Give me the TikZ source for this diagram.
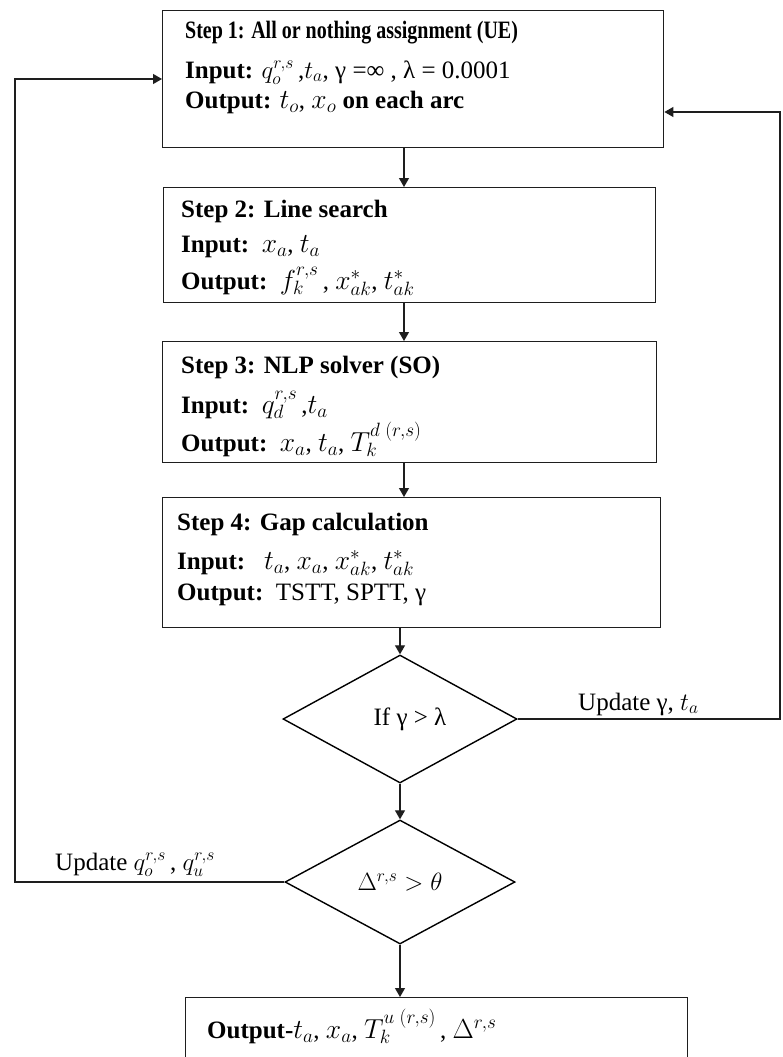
\RequirePackage{fix-cm}
\documentclass[tikz,border=0pt]{standalone}
\usepackage{fontspec}
\setmainfont{Liberation Serif}
\usepackage{graphicx}
\usetikzlibrary{shapes.geometric,arrows.meta,positioning}
\definecolor{edgegrey}{RGB}{30,30,30}
\newcommand{\bigtxt}{\fontsize{25}{30}\selectfont}
\newcommand{\mth}[1]{{\fontsize{27.5}{30}\selectfont$#1$}}

\begin{document}
\begin{tikzpicture}[
    x=1pt, y=-1pt,
    stepbox/.style={rectangle, draw=edgegrey, line width=1.4pt, anchor=north west,
        inner sep=0pt},
    decide/.style={diamond, draw=black, line width=1.4pt, inner sep=0pt,
        font=\bigtxt},
    ln/.style={anchor=base west, inner sep=0pt, font=\bigtxt},
    arr/.style={-{Triangle[length=9pt,width=10pt]}, line width=1.2pt, draw=edgegrey},
]
\useasboundingbox (0,0) rectangle (782,1057);
\clip (0,0) rectangle (782,1057);

% boxes
\node[stepbox, minimum width=501, minimum height=137] (s1) at (162,10) {};
\node[stepbox, minimum width=492, minimum height=115] (s2) at (163,187) {};
\node[stepbox, minimum width=494, minimum height=121] (s3) at (162,341) {};
\node[stepbox, minimum width=498, minimum height=130] (s4) at (162,497) {};
\node[decide, minimum width=234, minimum height=128] (d1) at (400,719)
    {\hspace*{20pt}If γ > λ};
\node[decide, minimum width=230, minimum height=124] (d2) at (400,882)
    {$\Delta^{r,s} > \theta$};
\node[stepbox, minimum width=502, minimum height=100] (out) at (185,997) {};

% box texts
\node[ln] (s1a) at (185,39) {\scalebox{0.8}[1]{\textbf{Step 1: All or nothing assignment (UE)}}};
\node[ln] (s1b) at (185,78) {\textbf{Input:} $q_o^{r,s}$\,,$t_a$, γ =∞ , λ = 0.0001};
\node[ln] (s1c) at (185,108) {\textbf{Output:} \mth{t_o}, \mth{x_o} \textbf{on each arc}};

\node[ln] (s2a) at (181,217) {\textbf{Step 2: Line search}};
\node[ln] (s2b) at (181,252) {\textbf{Input:}~~\mth{x_a}, \mth{t_a}};
\node[ln] (s2c) at (181,289) {\textbf{Output:}~~\mth{f_k^{r,s}}\,, \mth{x^*_{ak}}, \mth{t^*_{ak}}};

\node[ln] (s3a) at (181,373) {\textbf{Step 3: NLP solver (SO)}};
\node[ln] (s3b) at (181,413) {\textbf{Input:}~~\mth{q_d^{r,s}}\,,\mth{t_a}};
\node[ln] (s3c) at (181,451) {\textbf{Output:}~~\mth{x_a}, \mth{t_a},~\mth{T_k^{d\;(r,s)}}};

\node[ln] (s4a) at (177,530) {\textbf{Step 4: Gap calculation}};
\node[ln] (s4b) at (177,569) {\textbf{Input:}~~~\mth{t_a}, \mth{x_a}, \mth{x^*_{ak}}, \mth{t^*_{ak}}};
\node[ln] (s4c) at (177,600) {\textbf{Output:}~~TSTT, SPTT, γ};

\node[ln] (outa) at (207,1038) {\textbf{Output-}\mth{t_a}, \mth{x_a}, \mth{T_k^{u\;(r,s)}}\,, \mth{\Delta^{r,s}}};

% loop labels
\node[ln] (upd1) at (578,710) {Update γ, $t_a$};
\node[ln] (upd2) at (55,870) {Update $q_o^{r,s}$\,, $q_u^{r,s}$};

% main flow
\coordinate (ax) at (404,0);
\draw[arr] (s1.south -| ax) -- (s2.north -| ax);
\draw[arr] (s2.south -| ax) -- (s3.north -| ax);
\draw[arr] (s3.south -| ax) -- (s4.north -| ax);
\draw[arr] (s4.south -| d1.north) -- (d1.north);
\draw[arr] (d1.south) -- (d2.north);
\draw[arr] (d2.south) -- (out.north -| d2.south);

% feedback loops
\coordinate (lft) at (15,79);
\coordinate (rgt) at (780,112);
\draw[arr] (d2.west) -| (lft) -- (lft -| s1.west);
\draw[arr] (d1.east) -| (rgt) -- (rgt -| s1.east);
\end{tikzpicture}
\end{document}
